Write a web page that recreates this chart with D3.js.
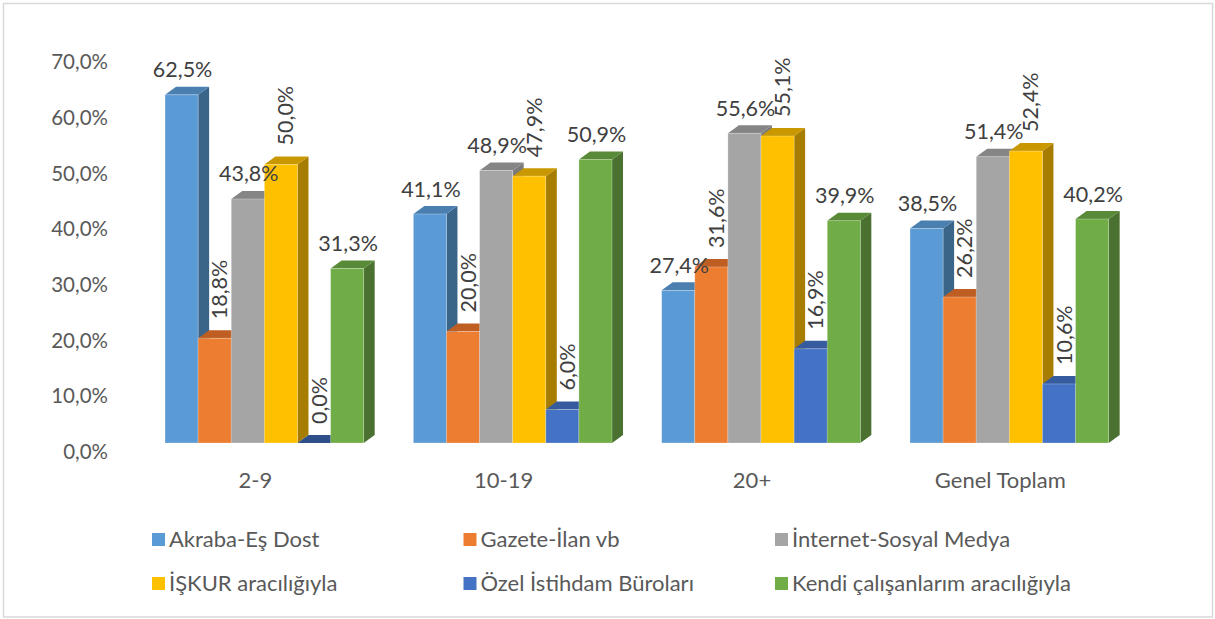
<!DOCTYPE html>
<html>
<head>
<meta charset="utf-8">
<script src="https://cdn.jsdelivr.net/npm/d3@7"></script>
<style>
html, body { margin: 0; padding: 0; background: #ffffff; }
svg { display: block; }
text { font-family: Lato, "Open Sans", sans-serif; }
</style>
</head>
<body>
<svg id="chart" width="1215" height="619"></svg>
<script>
const categories = ["2-9", "10-19", "20+", "Genel Toplam"];
const seriesNames = ["Akraba-Eş Dost", "Gazete-İlan vb", "İnternet-Sosyal Medya",
  "İŞKUR aracılığıyla", "Özel İstihdam Büroları", "Kendi çalışanlarım aracılığıyla"];
const akraba   = [62.5, 41.1, 27.4, 38.5];
const gazete   = [18.8, 20.0, 31.6, 26.2];
const internet = [43.8, 48.9, 55.6, 51.4];
const iskur    = [50.0, 47.9, 55.1, 52.4];
const ozel     = [0.0, 6.0, 16.9, 10.6];
const kendi    = [31.3, 50.9, 39.9, 40.2];
const yTicks   = [0, 10, 20, 30, 40, 50, 60, 70];

const seriesValues = [akraba, gazete, internet, iskur, ozel, kendi];
const frontColors = ["#5B9BD5", "#ED7D31", "#A5A5A5", "#FFC000", "#4472C4", "#70AD47"];
const topColors   = ["#4A7FB0", "#BE5E22", "#858585", "#C99800", "#365B9E", "#598A37"];
const sideColors  = ["#3A6589", "#AE5620", "#7B7B7B", "#A67D00", "#2F4F89", "#4A712F"];
const rotatedLabel = [false, true, false, true, true, false];

const svg = d3.select("#chart");
const W = 1215, H = 619;
const DX = 11, DY = -8;

// chart border
svg.append("rect").attr("x", 3.5).attr("y", 3.5).attr("width", W - 3.5 - 2.5).attr("height", H - 3.5 - 2)
  .attr("fill", "#ffffff").attr("stroke", "#d9d9d9").attr("stroke-width", 1.5);

const x0 = d3.scaleBand().domain(categories).range([140.2, 1133.5]).paddingInner(0.2).paddingOuter(0.1);
const x1 = d3.scaleBand().domain(d3.range(seriesNames.length)).range([0, x0.bandwidth()]);
const y = d3.scaleLinear().domain([0, 70]).range([443, 53]);

const fmt = v => d3.format(".1f")(v).replace(".", ",") + "%";

// y axis labels (no line)
const yAxis = d3.axisLeft(y).tickValues(yTicks).tickSize(0).tickFormat(fmt);
const yg = svg.append("g").attr("transform", "translate(108,8.5)").call(yAxis);
yg.select(".domain").remove();
yg.selectAll("text").attr("font-size", 20.5).attr("fill", "#595959")
  .attr("font-family", "Lato, 'Open Sans', sans-serif").attr("x", 0).attr("dy", "0.35em");

// bars
const bars = svg.append("g");
categories.forEach((cat, ci) => {
  seriesValues.forEach((vals, si) => {
    const v = vals[ci];
    const xl = x0(cat) + x1(si);
    const w = x1.bandwidth();
    const yt = y(v), yb = y(0);
    const g = bars.append("g");
    // side face
    g.append("path")
      .attr("d", `M${xl + w},${yb} L${xl + w + DX},${yb + DY} L${xl + w + DX},${yt + DY} L${xl + w},${yt} Z`)
      .attr("fill", sideColors[si]);
    // top face
    g.append("path")
      .attr("d", `M${xl},${yt} L${xl + DX},${yt + DY} L${xl + w + DX},${yt + DY} L${xl + w},${yt} Z`)
      .attr("fill", v === 0 ? sideColors[si] : topColors[si]);
    // front face
    if (v > 0) {
      g.append("rect").attr("x", xl).attr("y", yt).attr("width", w).attr("height", yb - yt)
        .attr("fill", frontColors[si]).attr("stroke", "rgba(255,255,255,0.35)").attr("stroke-width", 0.75);
    }
  });
});

// data labels
const labels = svg.append("g");
categories.forEach((cat, ci) => {
  seriesValues.forEach((vals, si) => {
    const v = vals[ci];
    const xc = x0(cat) + x1(si) + x1.bandwidth() / 2;
    const yt = y(v);
    if (rotatedLabel[si]) {
      labels.append("text")
        .attr("transform", `translate(${xc + 5},${yt - 19}) rotate(-90)`)
        .attr("text-anchor", "start").attr("dy", "0.35em")
        .attr("font-size", 21.5).attr("fill", "#404040").text(fmt(v));
    } else {
      labels.append("text")
        .attr("x", xc + 1).attr("y", yt - 25)
        .attr("text-anchor", "middle").attr("dy", "0.35em")
        .attr("font-size", 21.5).attr("fill", "#404040").text(fmt(v));
    }
  });
});

// category labels
svg.append("g").selectAll("text").data(categories).join("text")
  .attr("x", d => x0(d) + x0.bandwidth() / 2 - 9).attr("y", 480)
  .attr("text-anchor", "middle").attr("dy", "0.35em")
  .attr("font-size", 22).attr("fill", "#595959").text(d => d);

// legend
const legCols = [152, 463.5, 775];
const legRows = [539.5, 583.5];
const leg = svg.append("g");
seriesNames.forEach((name, i) => {
  const lx = legCols[i % 3], ly = legRows[Math.floor(i / 3)];
  leg.append("rect").attr("x", lx).attr("y", ly - 6.5).attr("width", 13).attr("height", 13).attr("fill", frontColors[i]);
  leg.append("text").attr("x", lx + 17).attr("y", ly).attr("dy", "0.35em")
    .attr("font-size", 22).attr("fill", "#595959").text(name);
});
</script>
</body>
</html>
